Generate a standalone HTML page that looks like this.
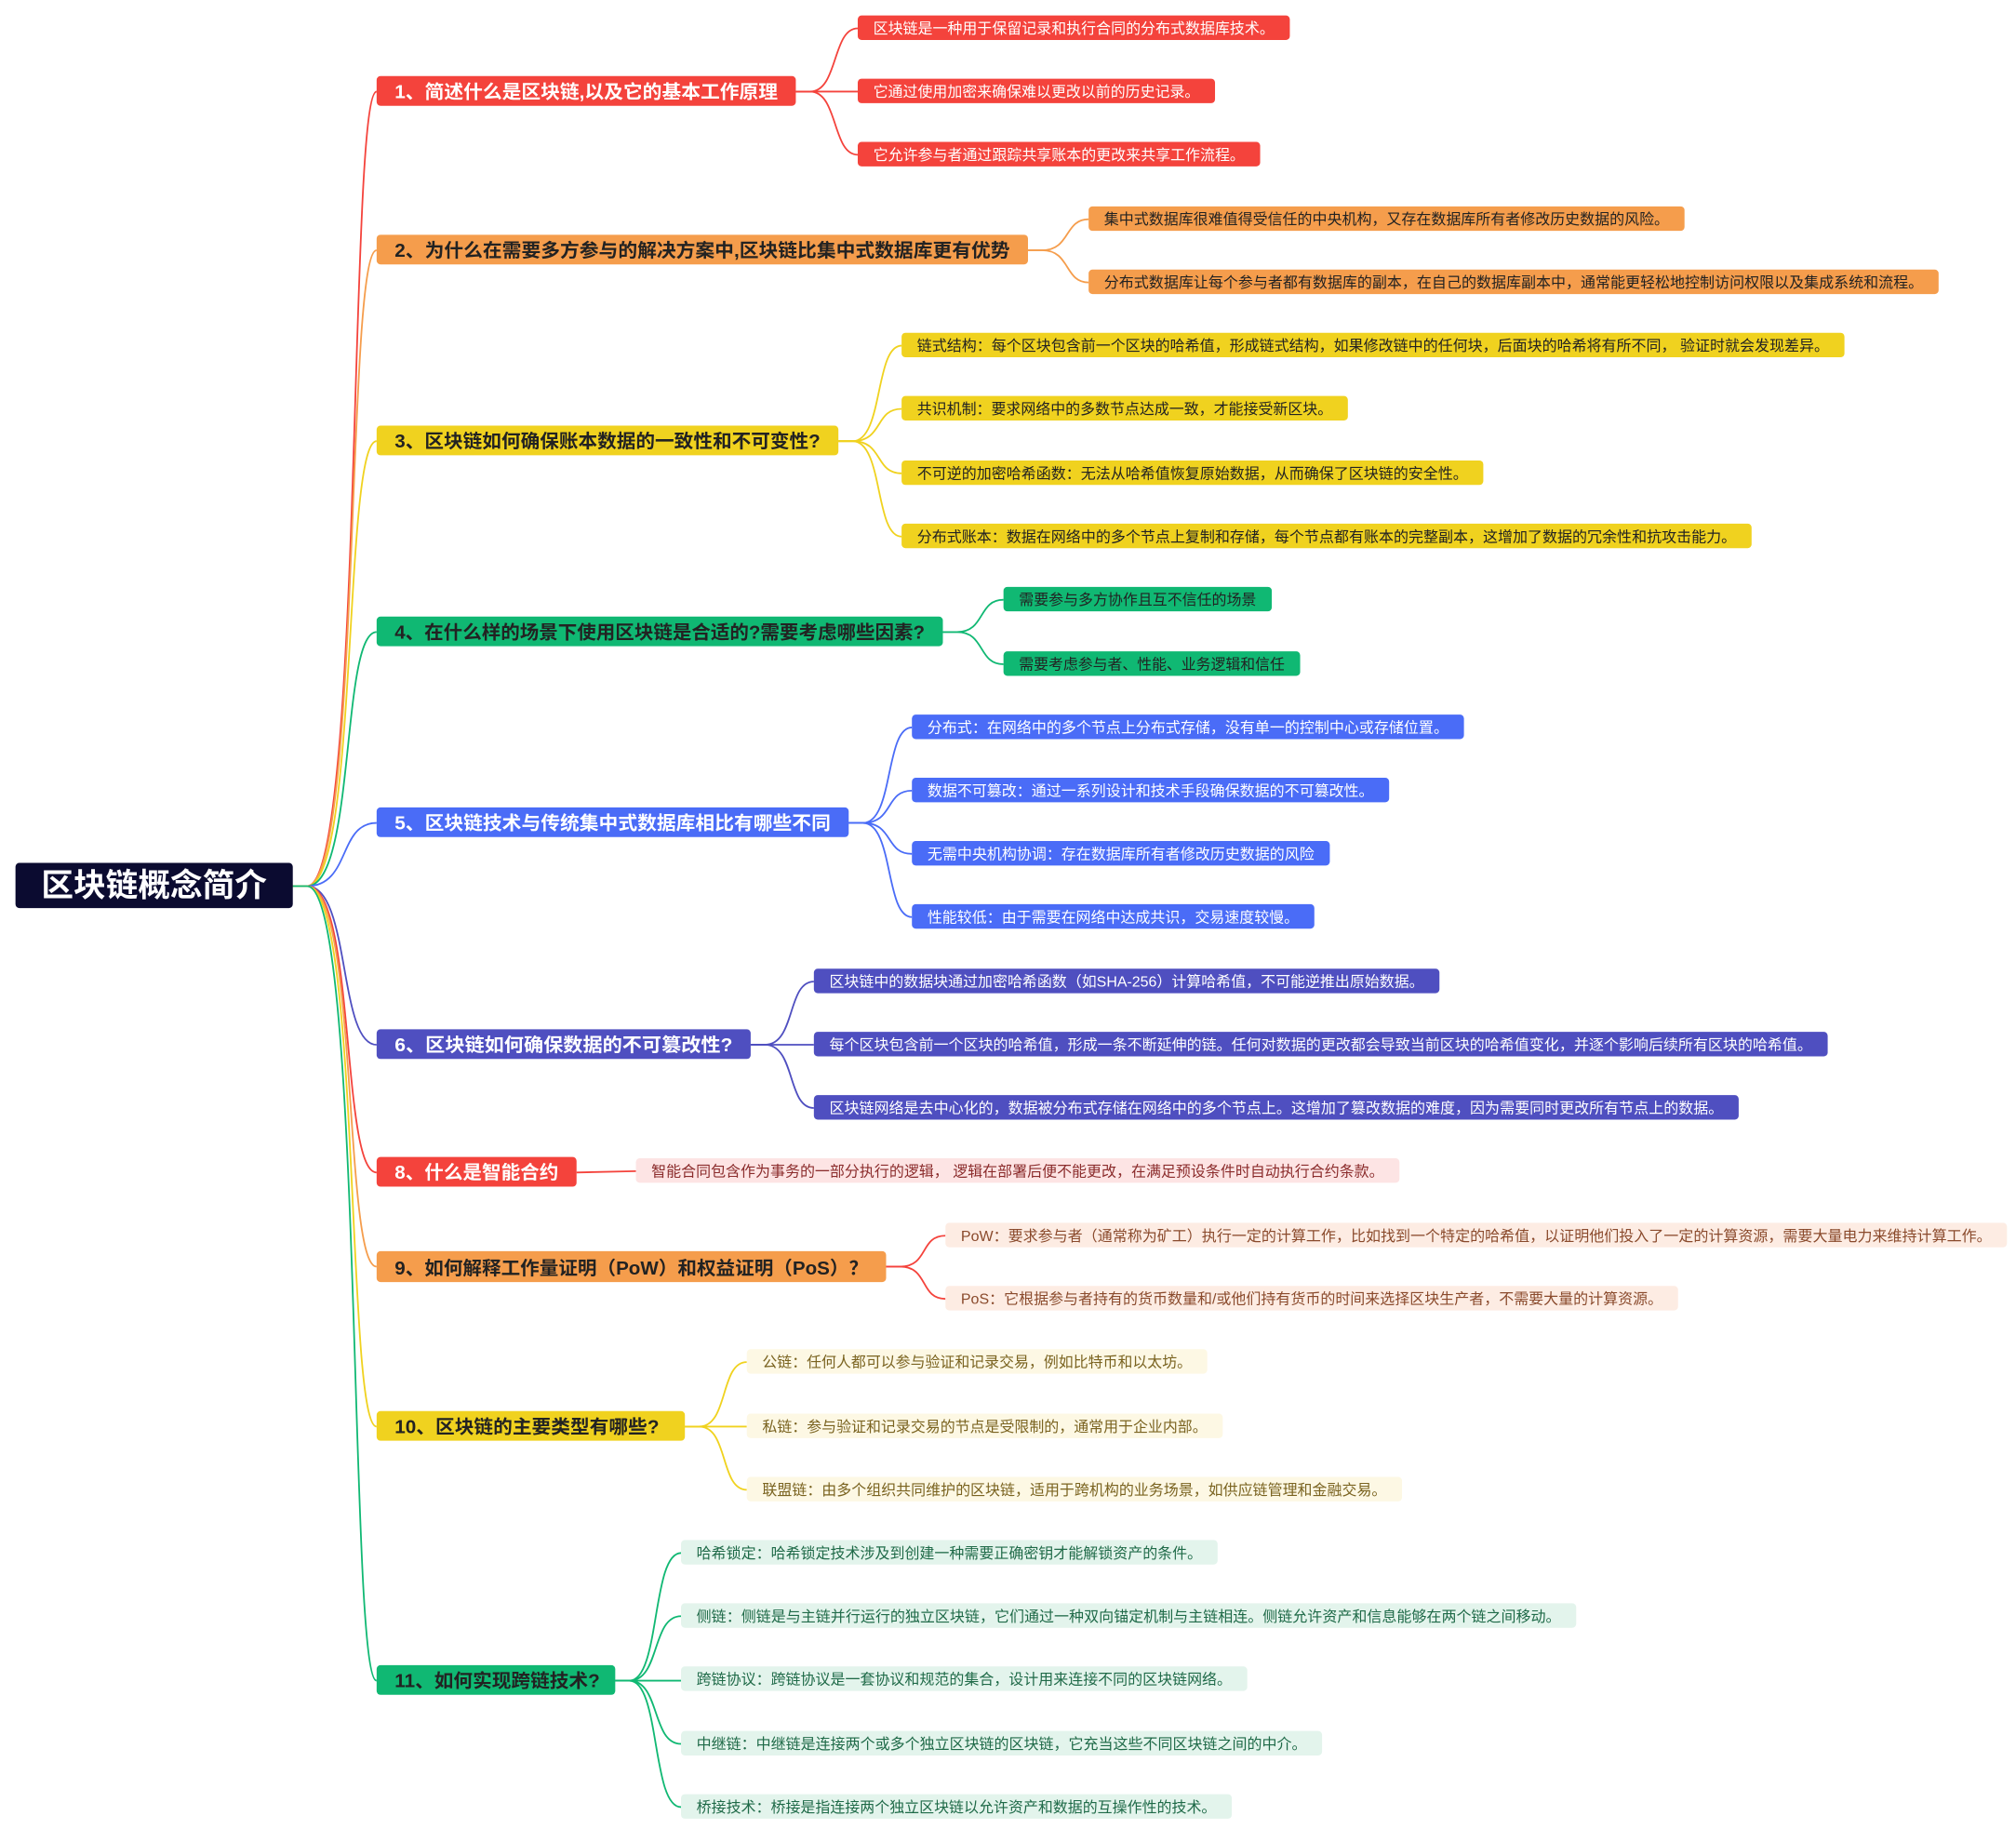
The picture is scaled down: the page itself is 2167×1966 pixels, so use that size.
<!DOCTYPE html>
<html><head><meta charset="utf-8"><style>
html,body{margin:0;padding:0;background:#fff;}
svg{display:block;}
text{font-family:"Liberation Sans","Noto Sans CJK SC",sans-serif;}
.l1{font-size:14.5px;font-weight:bold;}
.l2{font-size:11.5px;}
</style></head><body>
<svg width="2167" height="1966" viewBox="0 0 1563 1418" preserveAspectRatio="none" xmlns="http://www.w3.org/2000/svg">
<g fill="none" stroke-width="1.3">
<path d="M227 687 L238 687 C 282 687, 270 71, 292 71" stroke="#f4433c"/>
<path d="M227 687 L238 687 C 280 687, 268 194, 292 194" stroke="#f59d4c"/>
<path d="M227 687 L238 687 C 278 687, 266 342, 292 342" stroke="#f0d21f"/>
<path d="M227 687 L238 687 C 276 687, 264 490, 292 490" stroke="#10b873"/>
<path d="M227 687 L238 687 C 272 687, 262 638, 292 638" stroke="#4a6cf7"/>
<path d="M227 687 L238 687 C 272 687, 262 810, 292 810" stroke="#4f4fc0"/>
<path d="M227 687 L238 687 C 276 687, 264 909, 292 909" stroke="#f4433c"/>
<path d="M227 687 L238 687 C 278 687, 266 982, 292 982" stroke="#f59d4c"/>
<path d="M227 687 L238 687 C 280 687, 268 1106, 292 1106" stroke="#f0d21f"/>
<path d="M227 687 L238 687 C 282 687, 270 1303, 292 1303" stroke="#10b873"/>

<g stroke="#f4433c">
<path d="M617 71 L628 71 C 650 71, 645 22, 665 22"/>
<path d="M617 71 L665 71"/>
<path d="M617 71 L628 71 C 650 71, 645 120, 665 120"/>
</g>
<g stroke="#f59d4c">
<path d="M797 194 L808 194 C 830 194, 825 170, 844 170"/>
<path d="M797 194 L808 194 C 830 194, 825 219, 844 219"/>
</g>
<g stroke="#f0d21f">
<path d="M650 342 L661 342 C 685 342, 678 268, 699 268"/>
<path d="M650 342 L661 342 C 685 342, 678 317, 699 317"/>
<path d="M650 342 L661 342 C 685 342, 678 367, 699 367"/>
<path d="M650 342 L661 342 C 685 342, 678 416, 699 416"/>
</g>
<g stroke="#10b873">
<path d="M731 490 L742 490 C 764 490, 758 465, 778 465"/>
<path d="M731 490 L742 490 C 764 490, 758 515, 778 515"/>
</g>
<g stroke="#4a6cf7">
<path d="M658 638 L669 638 C 693 638, 686 564, 707 564"/>
<path d="M658 638 L669 638 C 693 638, 686 613, 707 613"/>
<path d="M658 638 L669 638 C 693 638, 686 662, 707 662"/>
<path d="M658 638 L669 638 C 693 638, 686 711, 707 711"/>
</g>
<g stroke="#4f4fc0">
<path d="M582 810 L593 810 C 617 810, 610 761, 631 761"/>
<path d="M582 810 L631 810"/>
<path d="M582 810 L593 810 C 617 810, 610 859, 631 859"/>
</g>
<path d="M447 909 L493 908" stroke="#f4433c"/>
<g stroke="#f4433c">
<path d="M687 982 L698 982 C 720 982, 713 958, 733 958"/>
<path d="M687 982 L698 982 C 720 982, 713 1007, 733 1007"/>
</g>
<g stroke="#f0d21f">
<path d="M531 1106 L542 1106 C 565 1106, 558 1056, 579 1056"/>
<path d="M531 1106 L579 1106"/>
<path d="M531 1106 L542 1106 C 565 1106, 558 1155, 579 1155"/>
</g>
<g stroke="#10b873">
<path d="M477 1303 L488 1303 C 512 1303, 505 1204, 528 1204"/>
<path d="M477 1303 L488 1303 C 512 1303, 505 1253, 528 1253"/>
<path d="M477 1303 L528 1303"/>
<path d="M477 1303 L488 1303 C 512 1303, 505 1352, 528 1352"/>
<path d="M477 1303 L488 1303 C 512 1303, 505 1401, 528 1401"/>
</g>
</g>

<!-- root -->
<rect x="12" y="669" width="215" height="35" rx="3" fill="#0b0b30"/>
<text x="32" y="695" font-size="25" font-weight="bold" fill="#fff" textLength="175" lengthAdjust="spacingAndGlyphs">区块链概念简介</text>

<!-- level 1 -->
<rect x="292" y="59" width="325" height="23" rx="3" fill="#f4433c"/>
<text class="l1" x="306" y="76" fill="#fff" textLength="297" lengthAdjust="spacingAndGlyphs">1、简述什么是区块链,以及它的基本工作原理</text>
<rect x="292" y="182" width="505" height="23" rx="3" fill="#f59d4c"/>
<text class="l1" x="306" y="199" fill="#222" textLength="477" lengthAdjust="spacingAndGlyphs">2、为什么在需要多方参与的解决方案中,区块链比集中式数据库更有优势</text>
<rect x="292" y="330" width="358" height="23" rx="3" fill="#f0d21f"/>
<text class="l1" x="306" y="347" fill="#222" textLength="330" lengthAdjust="spacingAndGlyphs">3、区块链如何确保账本数据的一致性和不可变性?</text>
<rect x="292" y="478" width="439" height="23" rx="3" fill="#10b873"/>
<text class="l1" x="306" y="495" fill="#222" textLength="411" lengthAdjust="spacingAndGlyphs">4、在什么样的场景下使用区块链是合适的?需要考虑哪些因素?</text>
<rect x="292" y="626" width="366" height="23" rx="3" fill="#4a6cf7"/>
<text class="l1" x="306" y="643" fill="#fff" textLength="338" lengthAdjust="spacingAndGlyphs">5、区块链技术与传统集中式数据库相比有哪些不同</text>
<rect x="292" y="798" width="290" height="23" rx="3" fill="#4f4fc0"/>
<text class="l1" x="306" y="815" fill="#fff" textLength="262" lengthAdjust="spacingAndGlyphs">6、区块链如何确保数据的不可篡改性?</text>
<rect x="292" y="897" width="155" height="23" rx="3" fill="#f4433c"/>
<text class="l1" x="306" y="914" fill="#fff" textLength="127" lengthAdjust="spacingAndGlyphs">8、什么是智能合约</text>
<rect x="292" y="970" width="395" height="24" rx="3" fill="#f59d4c"/>
<text class="l1" x="306" y="988" fill="#222" textLength="367" lengthAdjust="spacingAndGlyphs">9、如何解释工作量证明（PoW）和权益证明（PoS）？</text>
<rect x="292" y="1094" width="239" height="23" rx="3" fill="#f0d21f"/>
<text class="l1" x="306" y="1111" fill="#222" textLength="205" lengthAdjust="spacingAndGlyphs">10、区块链的主要类型有哪些?</text>
<rect x="292" y="1291" width="185" height="23" rx="3" fill="#10b873"/>
<text class="l1" x="306" y="1308" fill="#222" textLength="159" lengthAdjust="spacingAndGlyphs">11、如何实现跨链技术?</text>

<!-- level 2 -->
<g class="l2">
<rect x="665" y="12" width="335" height="19" rx="3" fill="#f4433c"/>
<text x="677" y="26" fill="#fff" textLength="311" lengthAdjust="spacingAndGlyphs">区块链是一种用于保留记录和执行合同的分布式数据库技术。</text>
<rect x="665" y="61" width="277" height="19" rx="3" fill="#f4433c"/>
<text x="677" y="75" fill="#fff" textLength="253" lengthAdjust="spacingAndGlyphs">它通过使用加密来确保难以更改以前的历史记录。</text>
<rect x="665" y="110" width="312" height="19" rx="3" fill="#f4433c"/>
<text x="677" y="124" fill="#fff" textLength="288" lengthAdjust="spacingAndGlyphs">它允许参与者通过跟踪共享账本的更改来共享工作流程。</text>

<rect x="844" y="160" width="462" height="19" rx="3" fill="#f59d4c"/>
<text x="856" y="174" fill="#222" textLength="438" lengthAdjust="spacingAndGlyphs">集中式数据库很难值得受信任的中央机构，又存在数据库所有者修改历史数据的风险。</text>
<rect x="844" y="209" width="659" height="19" rx="3" fill="#f59d4c"/>
<text x="856" y="223" fill="#222" textLength="635" lengthAdjust="spacingAndGlyphs">分布式数据库让每个参与者都有数据库的副本，在自己的数据库副本中，通常能更轻松地控制访问权限以及集成系统和流程。</text>

<rect x="699" y="258" width="731" height="19" rx="3" fill="#f0d21f"/>
<text x="711" y="272" fill="#222" textLength="707" lengthAdjust="spacingAndGlyphs">链式结构：每个区块包含前一个区块的哈希值，形成链式结构，如果修改链中的任何块，后面块的哈希将有所不同， 验证时就会发现差异。</text>
<rect x="699" y="307" width="346" height="19" rx="3" fill="#f0d21f"/>
<text x="711" y="321" fill="#222" textLength="322" lengthAdjust="spacingAndGlyphs">共识机制：要求网络中的多数节点达成一致，才能接受新区块。</text>
<rect x="699" y="357" width="451" height="19" rx="3" fill="#f0d21f"/>
<text x="711" y="371" fill="#222" textLength="427" lengthAdjust="spacingAndGlyphs">不可逆的加密哈希函数：无法从哈希值恢复原始数据，从而确保了区块链的安全性。</text>
<rect x="699" y="406" width="659" height="19" rx="3" fill="#f0d21f"/>
<text x="711" y="420" fill="#222" textLength="635" lengthAdjust="spacingAndGlyphs">分布式账本：数据在网络中的多个节点上复制和存储，每个节点都有账本的完整副本，这增加了数据的冗余性和抗攻击能力。</text>

<rect x="778" y="455" width="208" height="19" rx="3" fill="#10b873"/>
<text x="790" y="469" fill="#222" textLength="184" lengthAdjust="spacingAndGlyphs">需要参与多方协作且互不信任的场景</text>
<rect x="778" y="505" width="230" height="19" rx="3" fill="#10b873"/>
<text x="790" y="519" fill="#222" textLength="206" lengthAdjust="spacingAndGlyphs">需要考虑参与者、性能、业务逻辑和信任</text>

<rect x="707" y="554" width="428" height="19" rx="3" fill="#4a6cf7"/>
<text x="719" y="568" fill="#fff" textLength="404" lengthAdjust="spacingAndGlyphs">分布式：在网络中的多个节点上分布式存储，没有单一的控制中心或存储位置。</text>
<rect x="707" y="603" width="370" height="19" rx="3" fill="#4a6cf7"/>
<text x="719" y="617" fill="#fff" textLength="346" lengthAdjust="spacingAndGlyphs">数据不可篡改：通过一系列设计和技术手段确保数据的不可篡改性。</text>
<rect x="707" y="652" width="324" height="19" rx="3" fill="#4a6cf7"/>
<text x="719" y="666" fill="#fff" textLength="300" lengthAdjust="spacingAndGlyphs">无需中央机构协调：存在数据库所有者修改历史数据的风险</text>
<rect x="707" y="701" width="312" height="19" rx="3" fill="#4a6cf7"/>
<text x="719" y="715" fill="#fff" textLength="288" lengthAdjust="spacingAndGlyphs">性能较低：由于需要在网络中达成共识，交易速度较慢。</text>

<rect x="631" y="751" width="485" height="19" rx="3" fill="#4f4fc0"/>
<text x="643" y="765" fill="#fff" textLength="461" lengthAdjust="spacingAndGlyphs">区块链中的数据块通过加密哈希函数（如SHA-256）计算哈希值，不可能逆推出原始数据。</text>
<rect x="631" y="800" width="786" height="19" rx="3" fill="#4f4fc0"/>
<text x="643" y="814" fill="#fff" textLength="762" lengthAdjust="spacingAndGlyphs">每个区块包含前一个区块的哈希值，形成一条不断延伸的链。任何对数据的更改都会导致当前区块的哈希值变化，并逐个影响后续所有区块的哈希值。</text>
<rect x="631" y="849" width="717" height="19" rx="3" fill="#4f4fc0"/>
<text x="643" y="863" fill="#fff" textLength="693" lengthAdjust="spacingAndGlyphs">区块链网络是去中心化的，数据被分布式存储在网络中的多个节点上。这增加了篡改数据的难度，因为需要同时更改所有节点上的数据。</text>

<rect x="493" y="898" width="592" height="19" rx="3" fill="#fde4e4"/>
<text x="505" y="912" fill="#8b2c2c" textLength="568" lengthAdjust="spacingAndGlyphs">智能合同包含作为事务的一部分执行的逻辑， 逻辑在部署后便不能更改，在满足预设条件时自动执行合约条款。</text>

<rect x="733" y="948" width="823" height="19" rx="3" fill="#fdece3"/>
<text x="745" y="962" fill="#8a4a2c" textLength="799" lengthAdjust="spacingAndGlyphs">PoW：要求参与者（通常称为矿工）执行一定的计算工作，比如找到一个特定的哈希值，以证明他们投入了一定的计算资源，需要大量电力来维持计算工作。</text>
<rect x="733" y="997" width="568" height="19" rx="3" fill="#fdece3"/>
<text x="745" y="1011" fill="#8a4a2c" textLength="544" lengthAdjust="spacingAndGlyphs">PoS：它根据参与者持有的货币数量和/或他们持有货币的时间来选择区块生产者，不需要大量的计算资源。</text>

<rect x="579" y="1046" width="357" height="19" rx="3" fill="#fdf8e4"/>
<text x="591" y="1060" fill="#7a6320" textLength="333" lengthAdjust="spacingAndGlyphs">公链：任何人都可以参与验证和记录交易，例如比特币和以太坊。</text>
<rect x="579" y="1096" width="369" height="19" rx="3" fill="#fdf8e4"/>
<text x="591" y="1110" fill="#7a6320" textLength="345" lengthAdjust="spacingAndGlyphs">私链：参与验证和记录交易的节点是受限制的，通常用于企业内部。</text>
<rect x="579" y="1145" width="508" height="19" rx="3" fill="#fdf8e4"/>
<text x="591" y="1159" fill="#7a6320" textLength="484" lengthAdjust="spacingAndGlyphs">联盟链：由多个组织共同维护的区块链，适用于跨机构的业务场景，如供应链管理和金融交易。</text>

<rect x="528" y="1194" width="416" height="19" rx="3" fill="#e3f4ec"/>
<text x="540" y="1208" fill="#1f6a48" textLength="392" lengthAdjust="spacingAndGlyphs">哈希锁定：哈希锁定技术涉及到创建一种需要正确密钥才能解锁资产的条件。</text>
<rect x="528" y="1243" width="694" height="19" rx="3" fill="#e3f4ec"/>
<text x="540" y="1257" fill="#1f6a48" textLength="670" lengthAdjust="spacingAndGlyphs">侧链：侧链是与主链并行运行的独立区块链，它们通过一种双向锚定机制与主链相连。侧链允许资产和信息能够在两个链之间移动。</text>
<rect x="528" y="1292" width="439" height="19" rx="3" fill="#e3f4ec"/>
<text x="540" y="1306" fill="#1f6a48" textLength="415" lengthAdjust="spacingAndGlyphs">跨链协议：跨链协议是一套协议和规范的集合，设计用来连接不同的区块链网络。</text>
<rect x="528" y="1342" width="497" height="19" rx="3" fill="#e3f4ec"/>
<text x="540" y="1356" fill="#1f6a48" textLength="473" lengthAdjust="spacingAndGlyphs">中继链：中继链是连接两个或多个独立区块链的区块链，它充当这些不同区块链之间的中介。</text>
<rect x="528" y="1391" width="427" height="19" rx="3" fill="#e3f4ec"/>
<text x="540" y="1405" fill="#1f6a48" textLength="403" lengthAdjust="spacingAndGlyphs">桥接技术：桥接是指连接两个独立区块链以允许资产和数据的互操作性的技术。</text>
</g>
</svg>
</body></html>
